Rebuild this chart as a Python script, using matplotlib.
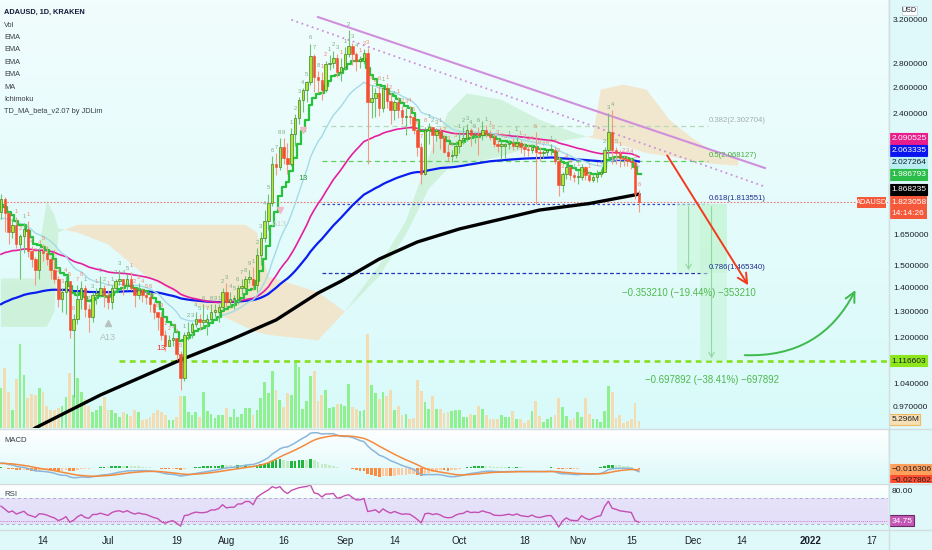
import datetime as dt
import numpy as np
import matplotlib
matplotlib.use("Agg")
import matplotlib.pyplot as plt
import matplotlib.dates as mdates
from matplotlib.colors import LinearSegmentedColormap
from matplotlib.patches import Rectangle, FancyArrowPatch
from matplotlib.ticker import FixedLocator, FixedFormatter, NullLocator
from matplotlib.transforms import Bbox, offset_copy
from matplotlib import font_manager

available = {f.name for f in font_manager.fontManager.ttflist}
REG = 'Liberation Sans' if 'Liberation Sans' in available else 'DejaVu Sans'
plt.rcParams['font.family'] = [REG, 'DejaVu Sans']

# ---------------- data ----------------
start_date = dt.date(2021, 6, 3)
first_open = 1.77

closes = [
    1.84, 1.76, 1.66, 1.70, 1.60, 1.64, 1.68, 1.57, 1.53, 1.48, 1.57, 1.56, 1.53, 1.48,
    1.44, 1.35, 1.38, 1.43, 1.23, 1.27, 1.35, 1.40, 1.31, 1.28, 1.37, 1.37, 1.40, 1.37,
    1.34, 1.40, 1.43, 1.44, 1.41, 1.44, 1.40, 1.37, 1.39, 1.37, 1.36, 1.33, 1.30, 1.28,
    1.21, 1.17, 1.19, 1.20, 1.14, 1.06, 1.21, 1.22, 1.25, 1.27, 1.26, 1.26, 1.27, 1.30,
    1.30, 1.32, 1.38,
    1.34, 1.35, 1.35, 1.40, 1.40, 1.44, 1.44, 1.41, 1.55, 1.63, 1.72, 1.82, 2.05, 2.03,
    2.16, 2.09, 2.05, 2.25, 2.36, 2.50, 2.58, 2.64, 2.86, 2.68, 2.66, 2.58, 2.79, 2.80,
    2.84, 2.72, 2.77,
    2.88, 2.95, 2.88, 2.82, 2.82, 2.89, 2.48, 2.51, 2.55, 2.44, 2.59, 2.49, 2.42, 2.48,
    2.42, 2.37, 2.38, 2.37, 2.28, 2.16, 1.99, 2.28, 2.30, 2.24, 2.27, 2.22, 2.13, 2.10,
    2.11, 2.17,
    2.21, 2.22, 2.28, 2.24, 2.25, 2.24, 2.28, 2.25, 2.23, 2.18, 2.17, 2.17, 2.18, 2.19,
    2.17, 2.19, 2.16, 2.15, 2.14, 2.16, 2.13, 2.12, 2.13, 2.14, 2.14, 2.07, 1.92, 1.99,
    2.03, 1.98, 1.97,
    1.97, 2.03, 1.98, 1.95, 1.97, 1.99, 2.00, 2.14, 2.26, 2.14, 2.12, 2.09, 2.08, 2.07,
    2.06, 1.87, 1.823058,
]
highs = [
    1.87, 1.85, 1.77, 1.73, 1.74, 1.65, 1.71, 1.72, 1.59, 1.54, 1.58, 1.60, 1.59, 1.54,
    1.53, 1.45, 1.40, 1.45, 1.43, 1.29, 1.41, 1.43, 1.41, 1.33, 1.38, 1.40, 1.45, 1.41,
    1.39, 1.41, 1.44, 1.48, 1.44, 1.46, 1.47, 1.40, 1.42, 1.40, 1.38, 1.38, 1.34, 1.30,
    1.30, 1.23, 1.21, 1.22, 1.20, 1.15, 1.22, 1.26, 1.26, 1.30, 1.29, 1.33, 1.29, 1.33,
    1.33, 1.33, 1.40,
    1.42, 1.38, 1.37, 1.41, 1.44, 1.45, 1.48, 1.49, 1.58, 1.66, 1.78, 1.87, 2.10, 2.12,
    2.22, 2.22, 2.19, 2.29, 2.39, 2.52, 2.59, 2.65, 2.97, 2.88, 2.73, 2.72, 2.82, 2.87,
    2.91, 2.88, 2.84,
    2.94, 3.10, 2.98, 2.90, 2.86, 2.92, 2.93, 2.62, 2.59, 2.62, 2.61, 2.63, 2.55, 2.50,
    2.52, 2.45, 2.44, 2.45, 2.38, 2.29, 2.19, 2.30, 2.33, 2.30, 2.29, 2.30, 2.24, 2.18,
    2.14, 2.20,
    2.26, 2.30, 2.32, 2.29, 2.26, 2.30, 2.34, 2.31, 2.28, 2.25, 2.22, 2.20, 2.19, 2.21,
    2.22, 2.24, 2.21, 2.19, 2.18, 2.18, 2.26, 2.16, 2.14, 2.15, 2.18, 2.16, 2.10, 2.00,
    2.06, 2.03, 2.00,
    2.01, 2.05, 2.04, 2.00, 1.99, 2.01, 2.02, 2.16, 2.40, 2.42, 2.16, 2.14, 2.10, 2.10,
    2.09, 2.05, 1.89,
]
lows = [
    1.73, 1.66, 1.60, 1.63, 1.58, 1.44, 1.56, 1.54, 1.49, 1.41, 1.44, 1.52, 1.50, 1.44,
    1.42, 1.32, 1.30, 1.29, 1.20, 1.00, 1.25, 1.31, 1.28, 1.22, 1.26, 1.33, 1.36, 1.32,
    1.31, 1.31, 1.39, 1.41, 1.37, 1.39, 1.39, 1.32, 1.35, 1.34, 1.33, 1.30, 1.27, 1.23,
    1.19, 1.15, 1.17, 1.17, 1.12, 1.02, 1.05, 1.19, 1.20, 1.24, 1.23, 1.24, 1.21, 1.26,
    1.28, 1.26, 1.31,
    1.32, 1.32, 1.31, 1.33, 1.37, 1.38, 1.42, 1.39, 1.38, 1.50, 1.61, 1.67, 1.80, 1.98,
    2.01, 2.05, 1.99, 2.04, 2.17, 2.32, 2.41, 2.48, 2.62, 2.56, 2.55, 2.50, 2.56, 2.74,
    2.76, 2.68, 2.65,
    2.74, 2.85, 2.78, 2.73, 2.76, 2.79, 2.05, 2.36, 2.37, 2.38, 2.41, 2.44, 2.32, 2.35,
    2.36, 2.32, 2.24, 2.32, 2.25, 2.10, 1.93, 1.98, 2.18, 2.12, 2.20, 2.15, 2.12, 2.07,
    2.06, 2.09,
    2.12, 2.18, 2.20, 2.17, 2.19, 2.11, 2.21, 2.23, 2.21, 2.16, 2.13, 2.08, 2.09, 2.15,
    2.14, 2.15, 2.12, 2.10, 2.10, 2.12, 1.81, 2.07, 2.09, 2.10, 2.11, 2.05, 1.86, 1.88,
    1.96, 1.95, 1.94,
    1.93, 1.95, 1.95, 1.94, 1.94, 1.94, 1.97, 2.00, 2.09, 2.05, 2.05, 2.03, 2.04, 2.04,
    2.02, 1.84, 1.77,
]
volumes_m = [
    30.2, 45.9, 27.1, 13.3, 37.5, 64.0, 39.9, 23.0, 25.9, 24.9,
    30.7, 27.1, 16.9, 14.0, 14.0, 15.2, 16.9, 23.4, 41.6, 25.4,
    38.2, 27.3, 21.8, 16.9, 12.1, 13.8, 16.9, 23.9, 14.0, 13.8,
    11.4, 8.0, 12.1, 10.4, 8.9, 13.3, 12.1, 6.0, 6.8, 8.0,
    11.6, 13.3, 12.1, 9.7, 6.0, 6.0, 8.0, 24.2, 24.2, 12.1,
    10.2, 12.1, 8.0, 27.1, 12.8, 10.4, 7.3, 9.7, 9.7, 15.2,
    8.5, 14.5, 8.5, 10.9, 15.2, 15.2, 9.7, 13.8, 23.0, 34.6,
    26.6, 43.0, 29.0, 21.3, 15.7, 26.6, 24.9, 51.5, 46.4, 14.5,
    20.5, 39.2, 43.5, 20.5, 25.4, 29.0, 15.2, 16.2, 18.6, 18.6,
    16.9, 33.1, 15.7, 14.5, 12.6, 13.3, 71.3, 32.6, 26.6, 21.8,
    27.3, 24.2, 29.0, 13.3, 16.9, 9.7, 10.9, 6.5, 7.3, 36.3,
    27.8, 20.1, 14.5, 24.2, 14.5, 14.5, 11.4, 12.1, 12.6, 13.3,
    13.8, 8.0, 8.0, 10.9, 9.7, 16.9, 14.5, 9.7, 6.5, 6.5,
    6.5, 9.7, 8.0, 8.0, 12.6, 6.5, 6.5, 4.1, 6.0, 12.6,
    20.5, 8.9, 4.8, 6.5, 8.0, 9.7, 22.5, 16.2, 8.9, 6.0,
    7.3, 12.1, 8.5, 23.0, 10.4, 6.5, 6.5, 4.8, 12.6, 32.1,
    27.1, 7.7, 9.7, 4.1, 5.3, 6.5, 18.9, 5.296,
]

ema20_seed, ema50_seed, ema100_seed, td_seed = 1.72, 1.54, 1.32, 1.80
macd_fast_seed, macd_slow_seed, macd_signal_seed = 1.74, 1.70, 0.04
rsi_gain_seed, rsi_loss_seed = 0.040, 0.034

# last values printed on the price scale
ema50_last, ema100_last, ema20_last, td_last, ma200_last = (
    2.090525, 2.063335, 2.027264, 1.986793, 1.868235)
macd_last, signal_last, rsi_last = -0.016306, -0.027862, 34.75

# 200-day MA (black)
ma200_dates = ['2021-06-03', '2021-06-12', '2021-06-29', '2021-07-20', '2021-08-02',
               '2021-08-14', '2021-08-25', '2021-08-31', '2021-09-10', '2021-09-20',
               '2021-10-01', '2021-10-12', '2021-10-22', '2021-11-04', '2021-11-17']
ma200_vals = [0.843, 0.908, 1.005, 1.120, 1.191, 1.267, 1.377, 1.428, 1.529, 1.612,
              1.678, 1.730, 1.779, 1.815, 1.868235]

# Ichimoku cloud (span A / span B)
cloud_dates = ['2021-06-03', '2021-06-12', '2021-06-13', '2021-06-15', '2021-06-17',
               '2021-06-18', '2021-06-23', '2021-07-01', '2021-07-11', '2021-07-24',
               '2021-08-06', '2021-08-09', '2021-08-12', '2021-08-25', '2021-09-01',
               '2021-09-10', '2021-09-17', '2021-09-23', '2021-09-28', '2021-10-03',
               '2021-10-12', '2021-10-22', '2021-11-01', '2021-11-05', '2021-11-07',
               '2021-11-13', '2021-11-19', '2021-11-25', '2021-12-01', '2021-12-07',
               '2021-12-13']
span_a = [1.44, 1.44, 1.58, 1.83, 1.75, 1.68, 1.66, 1.60, 1.45, 1.33, 1.24, 1.22, 1.21,
          1.19, 1.30, 1.50, 1.72, 2.10, 2.40, 2.55, 2.50, 2.35, 2.25, 2.22, 2.21, 2.17,
          2.12, 2.10, 2.07, 2.05, 2.04]
span_b = [1.24, 1.24, 1.24, 1.24, 1.30, 1.66, 1.70, 1.70, 1.70, 1.70, 1.70, 1.66, 1.45,
          1.38, 1.30, 1.45, 1.65, 1.90, 2.02, 2.05, 2.10, 2.18, 2.22, 2.24, 2.58, 2.62,
          2.58, 2.35, 2.22, 2.12, 2.08]

fib_ratios = ['0.382', '0.5', '0.618', '0.786']
fib_prices = [2.302704, 2.068127, 1.813551, 1.465340]
fib_start, fib_end = '2021-08-26', '2021-12-05'
target_price = 1.116603
target_start = '2021-07-04'

trend_solid = (('2021-08-25', 3.227), ('2021-12-20', 2.025))
trend_dotted = (('2021-08-18', 3.20), ('2021-12-20', 1.912))
red_arrow = (('2021-11-24', 2.121), ('2021-12-16', 1.40))
green_arrow = (('2021-12-14', 1.137), ('2022-01-13', 1.40))
measure1 = ('2021-11-27', '2021-12-10', 1.813551, 1.465340, '2021-11-30')
measure2 = ('2021-12-03', '2021-12-10', 1.813551, 1.116603, '2021-12-06')
measure1_text = ('2021-11-30', 1.377, '\u22120.353210 (\u221219.44%) \u2212353210')
measure2_text = ('2021-12-06', 1.053, '\u22120.697892 (\u221238.41%) \u2212697892')

tick_dates = ['2021-06-14', '2021-07-01', '2021-07-19', '2021-08-01', '2021-08-16',
              '2021-09-01', '2021-09-14', '2021-10-01', '2021-10-18', '2021-11-01',
              '2021-11-15', '2021-12-01', '2021-12-14', '2022-01-01', '2022-01-17']
tick_labels = ['14', 'Jul', '19', 'Aug', '16', 'Sep', '14', 'Oct', '18', 'Nov', '15',
               'Dec', '14', '2022', '17']
price_ticks = [3.2, 2.8, 2.6, 2.4, 1.65, 1.5, 1.4, 1.3, 1.2, 1.04, 0.97]
legend_lines = ['ADAUSD, 1D, KRAKEN', 'Vol', 'EMA', 'EMA', 'EMA', 'EMA', 'MA', 'Ichimoku',
                'TD_MA_beta_v2.07 by JDLim']
time_left = '14:14:26'

# ---------------- derived ----------------
def dn(s):
    return mdates.date2num(np.datetime64(s))

n = len(closes)
x = mdates.date2num(np.datetime64(start_date)) + np.arange(n)
c = np.array(closes)
o = np.array([first_open] + closes[:-1])
h = np.maximum(np.array(highs), np.maximum(o, c))
l = np.minimum(np.array(lows), np.minimum(o, c))
vol = np.array(volumes_m)
up = c >= o

def ema(vals, period, seed):
    k = 2.0 / (period + 1)
    e, out = seed, []
    for v in vals:
        e = e + k * (v - e)
        out.append(e)
    return np.array(out)

ema20 = ema(c, 20, ema20_seed)
ema50 = ema(c, 50, ema50_seed)
ema100 = ema(c, 100, ema100_seed)
td_line = ema(c, 8, td_seed)
macd = ema(c, 12, macd_fast_seed) - ema(c, 26, macd_slow_seed)
signal = ema(macd, 9, macd_signal_seed)
hist = macd - signal

ag, al, prev, rsi = rsi_gain_seed, rsi_loss_seed, first_open, []
for v in c:
    ch = v - prev
    ag = (ag * 13 + max(ch, 0)) / 14
    al = (al * 13 + max(-ch, 0)) / 14
    rsi.append(100 - 100 / (1 + ag / al))
    prev = v
rsi = np.array(rsi)

# TD setup counts
td_counts = [None] * n
buy = sell = 0
for i in range(4, n):
    if c[i] > c[i - 4]:
        sell = sell % 9 + 1
        buy = 0
        td_counts[i] = ('s', sell)
    elif c[i] < c[i - 4]:
        buy = buy % 9 + 1
        sell = 0
        td_counts[i] = ('b', buy)
    else:
        buy = sell = 0

# ---------------- figure ----------------
W, H = 932, 550
R = 888
fig = plt.figure(figsize=(W / 100, H / 100), dpi=100)
fig.patch.set_facecolor('#dff9fa')

def frect(x0, y0, x1, y1):
    return [x0 / W, 1 - y1 / H, (x1 - x0) / W, (y1 - y0) / H]

ax_v = fig.add_axes(frect(0, 0, R, 428), zorder=1)
ax = fig.add_axes(frect(0, 0, R, 428), zorder=2, sharex=ax_v)
ax_m = fig.add_axes(frect(0, 429, R, 483), zorder=2, sharex=ax_v)
ax_r = fig.add_axes(frect(0, 484, R, 529), zorder=2, sharex=ax_v)
ov = fig.add_axes([0, 0, 1, 1], zorder=20)
ov.set_xlim(0, W)
ov.set_ylim(H, 0)
ov.axis('off')
ov.patch.set_alpha(0)

def gradient(a, top, bottom):
    cmap = LinearSegmentedColormap.from_list('g', [top, bottom])
    a.imshow(np.linspace(0, 1, 128).reshape(-1, 1), cmap=cmap, aspect='auto',
             extent=(0, 1, 0, 1), transform=a.transAxes, zorder=-10)

gradient(ax_v, '#f1fdfd', '#d9fafa')
gradient(ax_m, '#ffffff', '#dcf9fa')
gradient(ax_r, '#ffffff', '#dcf9fa')
ax.patch.set_alpha(0)

for a in (ax_v, ax, ax_m, ax_r):
    for s in a.spines.values():
        s.set_visible(False)

x0_lim, x1_lim = dn('2021-06-14') - 11.26, dn('2021-06-14') + 221.2

# ---- volume ----
ax_v.bar(x, vol, width=0.72, color=np.where(up, '#8ff08f', '#f3dcb2'), zorder=1)
ax_v.set_ylim(0, 325)
ax_v.set_yticks([])
ax_v.tick_params(axis='x', length=0, labelbottom=False)

# ---- main price ----
ax.set_yscale('log')
p_top = 2.4 * np.exp(113 / 324)
p_bot = 2.4 * np.exp(-315 / 324)

cx = np.array([dn(d) for d in cloud_dates])
sa, sb = np.array(span_a), np.array(span_b)
ax.fill_between(cx, sa, sb, where=sa >= sb, interpolate=True, color='#c9efd3', alpha=0.75,
                lw=0, zorder=1)
ax.fill_between(cx, sa, sb, where=sa < sb, interpolate=True, color='#f3e3c6', alpha=0.85,
                lw=0, zorder=1)

ax.plot([dn(d) for d in ma200_dates], ma200_vals, color='#000000', lw=2.4, zorder=3,
        solid_capstyle='round', solid_joinstyle='round')
ax.plot(x, ema100, color='#0a1ef0', lw=1.6, zorder=3)
ax.plot(x, ema50, color='#e51ea0', lw=1.2, zorder=3)
ax.plot(x, ema20, color='#a3dbe8', lw=1.0, zorder=3)
ax.step(x + 0.5, td_line, where='pre', color='#27c23c', lw=1.6, zorder=3)

ax.vlines(x[up], l[up], h[up], color='#6cc46c', lw=0.8, zorder=4)
ax.vlines(x[~up], l[~up], h[~up], color='#f39a80', lw=0.8, zorder=4)
body_lo = np.minimum(o, c)
body_h = np.maximum(np.abs(c - o), c * 0.004)
ax.bar(x[up], body_h[up], bottom=body_lo[up], width=0.64, color='#aee932',
       edgecolor='#3f7f2f', lw=0.5, zorder=5)
ax.bar(x[~up], body_h[~up], bottom=body_lo[~up], width=0.64, color='#f4502f',
       edgecolor='#f4502f', lw=0.4, zorder=5)

above = offset_copy(ax.transData, fig=fig, y=2.5, units='points')
for i, tc in enumerate(td_counts):
    if tc is None:
        continue
    kind, num = tc
    ax.text(x[i], h[i], str(num), transform=above, fontsize=4.2, ha='center', va='bottom',
            color='#7fae86' if kind == 's' else '#f08a74', zorder=6)

fx0, fx1 = dn(fib_start), dn(fib_end)
fib_styles = [('#b5d9b5', (0, (4, 3))), ('#5fcf5f', (0, (4, 3))),
              ('#3346c8', (0, (2, 2))), ('#2233bb', (0, (3, 2)))]
fib_text_colors = ['#a3b0ac', '#43b043', '#1f2f8f', '#1f2f8f']
for r, p, (col, ls), tc in zip(fib_ratios, fib_prices, fib_styles, fib_text_colors):
    ax.plot([fx0, fx1], [p, p], color=col, lw=0.9, ls=ls, zorder=2)
    ax.text(fx1 + 0.3, p * 1.006, f'{r}({p:.6f})', color=tc, fontsize=5.6,
            va='bottom', ha='left', zorder=6)

ax.axhline(closes[-1], color='#f07a7a', lw=0.8, ls=(0, (1.5, 1.5)), zorder=2)
ax.plot([dn(target_start), x1_lim], [target_price] * 2, color='#86e01e', lw=1.9,
        ls=(0, (2.2, 1.7)), zorder=2)

(a0, p0), (a1, p1) = trend_solid
ax.plot([dn(a0), dn(a1)], [p0, p1], color='#cf8fdc', lw=1.5, zorder=3)
(a0, p0), (a1, p1) = trend_dotted
ax.plot([dn(a0), dn(a1)], [p0, p1], color='#cf8fdc', lw=1.3, ls=(0, (1, 2)), zorder=3)

for m in (measure1, measure2):
    d0, d1, ptop, pbot, dm = m
    ax.add_patch(Rectangle((dn(d0), pbot), dn(d1) - dn(d0), ptop - pbot,
                           facecolor='#c4f6d4', alpha=0.55, lw=0, zorder=2))
    ax.add_patch(FancyArrowPatch((dn(dm), ptop), (dn(dm), pbot),
                                 arrowstyle='->,head_length=0.35,head_width=0.2',
                                 mutation_scale=10, color='#92d8a2', lw=0.8, zorder=3))
for d, p, s in (measure1_text, measure2_text):
    ax.text(dn(d), p, s, color='#4cb94c', fontsize=6.9, ha='center', va='center', zorder=6)

(a0, p0), (a1, p1) = red_arrow
ax.add_patch(FancyArrowPatch((dn(a0), p0), (dn(a1), p1),
                             arrowstyle='->,head_length=0.7,head_width=0.35',
                             mutation_scale=10, color='#f33a1c', lw=1.4, zorder=6))
(a0, p0), (a1, p1) = green_arrow
ax.add_patch(FancyArrowPatch((dn(a0), p0), (dn(a1), p1), connectionstyle='arc3,rad=0.33',
                             arrowstyle='->,head_length=0.7,head_width=0.35',
                             mutation_scale=10, color='#3cba4c', lw=1.4, zorder=6))

ax.plot(dn('2021-07-01'), 1.256, marker='^', ms=5, color='#b8c2c0', zorder=6)
ax.text(dn('2021-07-01'), 1.20, 'A13', color='#b4bcbc', fontsize=6.5, ha='center',
        va='center', zorder=6)
ax.text(dn('2021-07-15'), 1.16, '13', color='#ef3030', fontsize=6, ha='center',
        va='center', zorder=6)
ax.plot(dn('2021-08-15'), 1.78, marker='v', ms=4.5, color='#f2b8c8', zorder=6)
ax.text(dn('2021-08-15'), 1.70, 'A13', color='#c8d0cc', fontsize=6, ha='center',
        va='center', zorder=6)
ax.plot(dn('2021-08-21'), 2.28, marker='v', ms=4.5, color='#f2b8c8', zorder=6)
ax.text(dn('2021-08-21'), 1.96, '13', color='#2c9a3c', fontsize=6, ha='center',
        va='center', zorder=6)

ax.set_ylim(p_bot, p_top)
ax.yaxis.tick_right()
ax.yaxis.set_major_locator(FixedLocator(price_ticks))
ax.yaxis.set_major_formatter(FixedFormatter([f'{t:.6f}' for t in price_ticks]))
ax.yaxis.set_minor_locator(NullLocator())
ax.tick_params(axis='y', length=0, pad=3.5, labelsize=6.0, labelcolor='#1b1f2b')
ax.tick_params(axis='x', length=0, labelbottom=False)

# ---- MACD ----
hcol = []
for i, v in enumerate(hist):
    pv = hist[i - 1] if i else v
    if v >= 0:
        hcol.append('#20b83a' if v >= pv else '#c4ecc8')
    else:
        hcol.append('#ff8a3d' if v < pv else '#ffc9a0')
ax_m.bar(x, hist, width=0.7, color=hcol, zorder=2)
ax_m.plot(x, macd, color='#8cb6da', lw=1.1, zorder=3)
ax_m.plot(x, signal, color='#f5893c', lw=1.1, zorder=3)
kpx = 35.0 / max(macd.max(), 0.05)
ax_m.set_ylim(-(483 - 467.7) / kpx, (467.7 - 429) / kpx)
ax_m.set_yticks([])
ax_m.tick_params(axis='x', length=0, labelbottom=False)

# ---- RSI ----
ax_r.axhspan(30, 70, color='#e4def9', alpha=0.9, lw=0, zorder=1)
ax_r.axhline(70, color='#b3acc8', lw=0.7, ls=(0, (3, 3)), zorder=2)
ax_r.axhline(30, color='#b3acc8', lw=0.7, ls=(0, (3, 3)), zorder=2)
ax_r.axhline(rsi_last, color='#c456b4', lw=0.6, ls=(0, (1, 1.5)), zorder=2)
ax_r.plot(x, rsi, color='#c44fb2', lw=1.0, zorder=3)
ax_r.set_ylim(30 - 5 / 0.6575, 30 + 40 / 0.6575)
ax_r.set_yticks([])
ax_r.set_xticks([dn(d) for d in tick_dates])
ax_r.set_xticklabels(tick_labels)
ax_r.tick_params(axis='x', length=0, pad=5, labelsize=7, labelcolor='#1b1f2b')
for t in ax_r.get_xticklabels():
    if t.get_text() == '2022':
        t.set_fontweight('bold')

ax_v.set_xlim(x0_lim, x1_lim)

# ---------------- overlay: separators, legend, tags ----------------
sep = '#d3dde0'
for yy in (428.5, 483.5, 529.5):
    ov.plot([0, W], [yy, yy], color=sep, lw=1)
ov.plot([R + 0.5, R + 0.5], [0, H], color=sep, lw=1)

for i, s in enumerate(legend_lines):
    ov.text(4, 12.7 + 12.4 * i, s, fontsize=5.3,
            color='#131a3a' if i == 0 else '#3a3f4a',
            fontweight='bold' if i == 0 else 'normal', va='center', ha='left')
ov.text(4, 441, 'MACD', fontsize=5.6, color='#3a3f4a', va='center')
ov.text(4, 495, 'RSI', fontsize=5.6, color='#3a3f4a', va='center')

tfs = 6.0

def ypix(a, v):
    return H - a.transData.transform((x0_lim, v))[1]

def tag(y, text, fc, tc='white', ec=None, x0=889, w=38, hgt=11, clip=None):
    r = Rectangle((x0, y - hgt / 2), w, hgt, facecolor=fc, edgecolor=ec or fc, lw=0.8)
    ov.add_patch(r)
    t = ov.text(x0 + 2.2, y + 0.3, text, color=tc, fontsize=tfs, va='center', ha='left')
    if clip is not None:
        bb = Bbox.from_extents(0, H - clip[1], W, H - clip[0])
        for art in (r, t):
            art.set_clip_on(True)
            art.set_clip_box(bb)
            art.set_clip_path(None)

ma_tags = [(ema50_last, '#e91e8c', 'white'), (ema100_last, '#0a14ee', 'white'),
           (ema20_last, '#b9eef2', '#1b1f2b'), (td_last, '#2cbc4a', 'white'),
           (ma200_last, '#000000', 'white')]
ys = [ypix(ax, v) for v, _, _ in ma_tags]
limit = ypix(ax, closes[-1]) - 5.5 - 7
for i in range(len(ma_tags) - 1, -1, -1):
    ys[i] = min(ys[i], limit)
    limit = ys[i] - 12
for (v, fc, tc), yy in zip(ma_tags, ys):
    tag(yy, f'{v:.6f}', fc, tc)

ylast = ypix(ax, closes[-1])
ov.add_patch(Rectangle((889, ylast - 6), 38, 23, facecolor='#f6583a', lw=0))
ov.text(891.2, ylast + 0.3, f'{closes[-1]:.6f}', color='white', fontsize=tfs, va='center')
ov.text(891.2, ylast + 11.3, time_left, color='white', fontsize=tfs, va='center')
ov.add_patch(Rectangle((857, ylast - 5.5), 29, 11, facecolor='#f6583a', lw=0))
ov.text(871.5, ylast + 0.3, 'ADAUSD', color='white', fontsize=5.4, va='center',
        ha='center')

tag(ypix(ax, target_price), f'{target_price:.6f}', '#8ee71c', '#1b1f2b')
tag(419.5, f'{vol[-1]:.3f}M', '#f7e0b4', '#1b1f2b', ec='#f0b860', w=31)
tag(469, f'\u2212{abs(macd_last):.6f}', '#ffa15c', '#1b1f2b', w=42)
tag(480, f'\u2212{abs(signal_last):.6f}', '#ff4f2e', '#1b1f2b', w=42, clip=(474.5, 483))
tag(ypix(ax_r, rsi_last), f'{rsi_last:.2f}', '#c458b6', 'white', ec='#6a2a66', w=25)
ov.text(891.5, ypix(ax_r, 80), '80.00', color='#1b1f2b', fontsize=tfs, va='center')
ov.add_patch(Rectangle((902, 5.5), 15, 9, facecolor='#ffffff', edgecolor='#c9d2dc', lw=0.6))
ov.text(909.5, 10.2, 'USD', color='#1b1f2b', fontsize=5.2, va='center', ha='center')

fig.savefig('out.png', dpi=100, facecolor=fig.get_facecolor())
